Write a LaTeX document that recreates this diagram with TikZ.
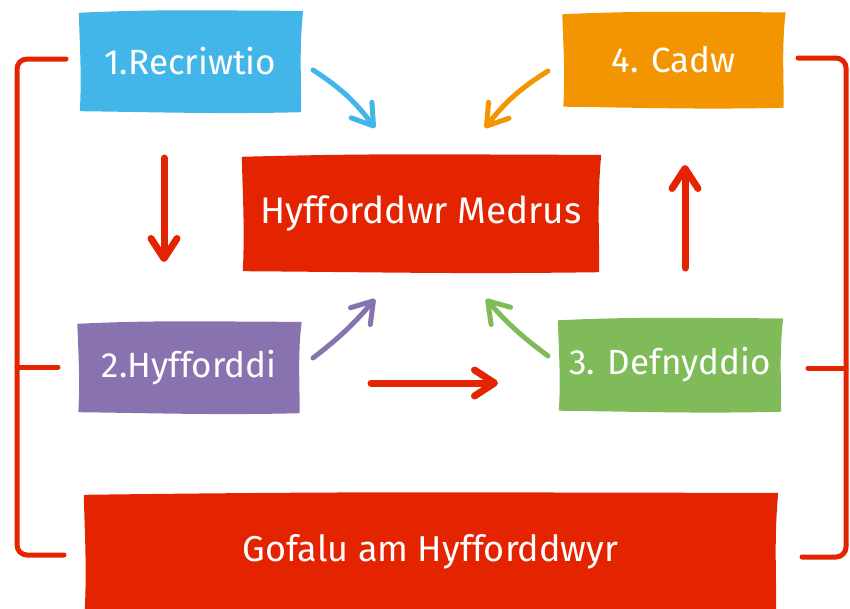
\documentclass[tikz,border=0pt]{standalone}
\usepackage{fontspec}
\setmainfont{Fira Sans}
\usetikzlibrary{arrows.meta,calc,backgrounds}
\definecolor{cblue}{HTML}{42B6E8}
\definecolor{corange}{HTML}{F39500}
\definecolor{cred}{HTML}{E42300}
\definecolor{cpurple}{HTML}{8872B0}
\definecolor{cgreen}{HTML}{80BB5A}
\newcommand{\brushbox}[2]{%
  \fill[#2] ([shift={(0,2)}]#1.north west)
    .. controls ([shift={(-30,-2)}]#1.north) and ([shift={(30,0)}]#1.north) .. ([shift={(1,0)}]#1.north east)
    .. controls ([shift={(-3,-15)}]#1.east) and ([shift={(-1,15)}]#1.east) .. ([shift={(-1,0)}]#1.south east)
    .. controls ([shift={(30,2)}]#1.south) and ([shift={(-30,0)}]#1.south) .. ([shift={(1,-1)}]#1.south west)
    .. controls ([shift={(3,15)}]#1.west) and ([shift={(1,-15)}]#1.west) .. cycle;}
\tikzset{
  box/.style={text=white, inner sep=0pt, font=\fontsize{35}{42}\selectfont},
  arr/.style={line width=#1, line cap=round,
    -{Straight Barb[length=20pt,width=26pt,round]}},
  bracket/.style={cred, line width=5pt, rounded corners=10pt, line cap=round}
}
\begin{document}
\begin{tikzpicture}[x=1pt,y=-1pt]
\useasboundingbox (0,0) rectangle (850,608);
% nodes
\node[box, minimum width=223pt, minimum height=101pt] (rec) at (190.5,61.5) {1.Recriwtio};
\node[box, minimum width=222pt, minimum height=95pt] (cad) at (673.5,60) {4. Cadw};
\node[box, minimum width=358pt, minimum height=117pt, font=\fontsize{37}{44}\selectfont] (med) at (421,213.5) {Hyfforddwr Medrus};
\node[box, minimum width=223pt, minimum height=91pt] (hyf) at (189,367.5) {2.Hyfforddi};
\node[box, minimum width=224pt, minimum height=93pt] (def) at (670,365) {3. Defnyddio};
\node[box, minimum width=693pt, minimum height=117pt, font=\fontsize{36}{43}\selectfont] (gof) at (430.5,551.5) {Gofalu am Hyfforddwyr};
\begin{scope}[on background layer]
\brushbox{rec}{cblue}
\brushbox{cad}{corange}
\brushbox{med}{cred}
\brushbox{hyf}{cpurple}
\brushbox{def}{cgreen}
\brushbox{gof}{cred}
\end{scope}
% arrow end points
\coordinate (a1s) at (313,70);  \coordinate (a1e) at (375,128);
\coordinate (a4s) at (548,71);  \coordinate (a4e) at (485,128);
\coordinate (a2s) at (313,358); \coordinate (a2e) at (375,299);
\coordinate (a3s) at (548,356); \coordinate (a3e) at (486,299);
\coordinate (d1s) at (164,158); \coordinate (d1e) at (164,262);
\coordinate (u1s) at (685,268); \coordinate (u1e) at (685,165);
\coordinate (r1s) at (371,383); \coordinate (r1e) at (498,383);
\draw[arr=5pt, cblue] (a1s) to[bend left=10] (a1e);
\draw[arr=5pt, corange] (a4s) to[bend right=10] (a4e);
\draw[arr=5pt, cpurple] (a2s) to[bend right=6] (a2e);
\draw[arr=5pt, cgreen] (a3s) to[bend left=6] (a3e);
\draw[arr=7pt, cred] (d1s) -- (d1e);
\draw[arr=7pt, cred] (u1s) -- (u1e);
\draw[arr=7pt, cred] (r1s) -- (r1e);
% brackets
\coordinate (lt) at (66,59); \coordinate (lm) at (58,367); \coordinate (lb) at (64,555);
\coordinate (rt) at (798,58); \coordinate (rm) at (808,368); \coordinate (rb) at (802,557);
\draw[bracket] (lt) -- (17,59) -- (17,555) -- (lb);
\draw[bracket] (17,367) -- (lm);
\draw[bracket] (rt) -- (846,58) -- (846,557) -- (rb);
\draw[bracket] (846,368) -- (rm);
\end{tikzpicture}
\end{document}
